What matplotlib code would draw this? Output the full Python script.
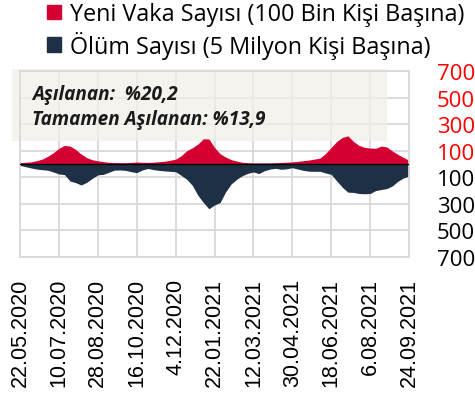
import datetime as dt
import numpy as np
import matplotlib
matplotlib.use("Agg")
import matplotlib.pyplot as plt
from matplotlib.patches import Patch, Rectangle

# weekly values, starting 22.05.2020
start = dt.date(2020, 5, 22)
cases = [10, 13, 16, 25, 37, 58, 85, 118, 140, 135,
         110, 75, 48, 32, 24, 18, 13, 11, 10, 10,
         12, 15, 13, 12, 14, 17, 21, 28, 36, 62,
         100, 122, 150, 190, 188, 125, 78, 52, 33, 22,
         13, 10, 8, 8, 8, 8, 10, 12, 14, 16,
         20, 25, 30, 37, 45, 80, 125, 170, 200, 212,
         170, 140, 125, 120, 118, 135, 128, 98, 72, 50,
         28]
deaths = [10, 20, 30, 38, 43, 47, 60, 75, 80, 128,
          140, 158, 138, 108, 82, 78, 62, 46, 45, 48,
          58, 65, 45, 34, 42, 48, 52, 55, 58, 85,
          115, 160, 235, 290, 337, 308, 290, 210, 150, 115,
          88, 70, 60, 72, 50, 38, 33, 40, 36, 28,
          38, 48, 54, 55, 55, 68, 78, 128, 175, 212,
          214, 222, 224, 222, 200, 192, 185, 165, 130, 105,
          91]
dates = [start + dt.timedelta(days=7 * i) for i in range(len(cases))]

tick_dates = [start + dt.timedelta(days=49 * i) for i in range(11)]
tick_labels = ["22.05.2020", "10.07.2020", "28.08.2020", "16.10.2020", "4.12.2020",
               "22.01.2021", "12.03.2021", "30.04.2021", "18.06.2021", "6.08.2021",
               "24.09.2021"]
y_ticks = [-700, -500, -300, -100, 100, 300, 500, 700]

legend_labels = ["Yeni Vaka Sayısı (100 Bin Kişi Başına)", "Ölüm Sayısı (5 Milyon Kişi Başına)"]
note_lines = ["Aşılanan:  %20,2", "Tamamen Aşılanan: %13,9"]

RED = "#d50032"
NAVY = "#1e3045"
GRID = "#d9d9d9"

W, H = 475, 402
fig = plt.figure(figsize=(W / 100, H / 100), dpi=100)
ax = fig.add_axes([20 / W, 1 - 258 / H, 389 / W, 186 / H])

ax.fill_between(dates, 0, cases, color=RED, lw=0, zorder=2)
ax.fill_between(dates, [-d for d in deaths], 0, color=NAVY, lw=0, zorder=2)
ax.axhline(0, color="black", lw=1, zorder=3)

ax.set_xlim(tick_dates[0], tick_dates[-1])
ax.set_ylim(-700, 700)
ax.set_xticks(tick_dates)
ax.set_xticklabels(tick_labels, rotation=90, family="Liberation Sans", fontsize=15.5)
ax.yaxis.tick_right()
ax.set_yticks(y_ticks)
ax.set_yticklabels([str(abs(v)) for v in y_ticks], family="Open Sans", fontsize=16)
for lab, v in zip(ax.get_yticklabels(), y_ticks):
    lab.set_color("#ff0000" if v > 0 else "black")
ax.tick_params(axis="both", length=0)
ax.tick_params(axis="y", pad=20)
ax.tick_params(axis="x", pad=15)
ax.grid(True, color=GRID, lw=1.3)
ax.set_axisbelow(True)
for s in ax.spines.values():
    s.set_color(GRID)
    s.set_linewidth(1.3)

# note box behind the areas
box = Rectangle((12 / W, 1 - 142 / H), 375 / W, 72 / H, transform=fig.transFigure,
                facecolor="#f2efe8", alpha=0.75, lw=0, zorder=1)
ax.add_patch(box)
box.set_clip_on(False)
fig.text(32 / W, 1 - 100 / H, note_lines[0], fontsize=13.7, weight="bold", style="italic",
         family="Open Sans", color="#1a1a1a")
fig.text(32 / W, 1 - 125 / H, note_lines[1], fontsize=13.7, weight="bold", style="italic",
         family="Open Sans", color="#1a1a1a")

handles = [Patch(color=RED), Patch(color=NAVY)]
fig.legend(handles, legend_labels, loc="upper left", bbox_to_anchor=(38 / W, 1.015),
           frameon=False, prop={"family": "Open Sans", "size": 16.8},
           handlelength=0.6, handleheight=0.6, handletextpad=0.35, labelspacing=0.2,
           borderaxespad=0)

fig.savefig("out.png", dpi=100)
